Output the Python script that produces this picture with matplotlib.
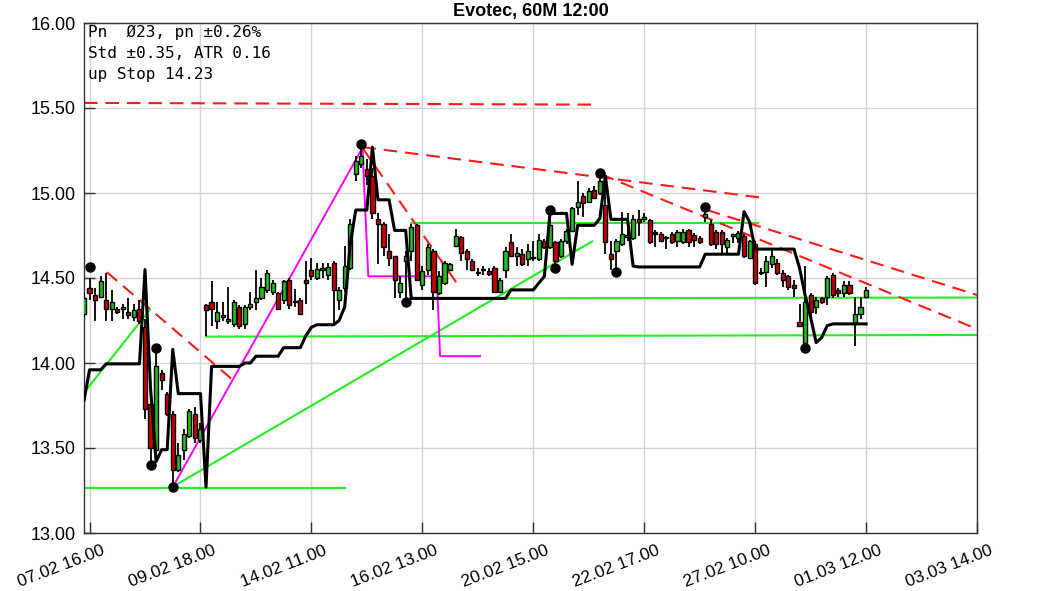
import matplotlib
matplotlib.use("Agg")
import matplotlib.pyplot as plt
import matplotlib.transforms as mtransforms
import numpy as np

# ---------------- data ----------------
opens = [14.29, 14.44, 14.40, 14.39, 14.37, 14.32, 14.32, 14.32, 14.30, 14.27,
         14.32, 14.21, 13.76, 13.49, 13.94, 13.82, 13.70, 13.37, 13.49, 13.57,
         13.70, 13.55, 14.34, 14.36, 14.25, 14.28, 14.25, 14.23, 14.33, 14.23,
         14.33, 14.36, 14.38, 14.43, 14.42, 14.41, 14.37, 14.49, 14.36, 14.37,
         14.49, 14.55, 14.50, 14.545, 14.52, 14.59, 14.37, 14.44, 14.56, 15.11,
         15.17, 15.14, 15.10, 14.85, 14.82, 14.66, 14.63, 14.42, 14.60, 14.66,
         14.81, 14.46, 14.55, 14.66, 14.41, 14.47, 14.55, 14.69, 14.74, 14.66,
         14.60, 14.53, 14.545, 14.54, 14.56, 14.42, 14.55, 14.71, 14.63, 14.64,
         14.61, 14.62, 14.61, 14.72, 14.68, 14.71, 14.63, 14.72, 14.775, 14.92,
         14.98, 14.95, 15.02, 15.00, 14.93, 14.64, 14.66, 14.70, 14.74, 14.735,
         14.85, 14.85, 14.84, 14.77, 14.76, 14.74, 14.76, 14.72, 14.71, 14.78,
         14.755, 14.735, 14.86, 14.82, 14.77, 14.77, 14.68, 14.75, 14.735, 14.745,
         14.62, 14.70, 14.53, 14.535, 14.58, 14.59, 14.53, 14.51, 14.46, 14.24,
         14.12, 14.40, 14.33, 14.38, 14.39, 14.52, 14.43, 14.41, 14.46, 14.23,
         14.29, 14.39]
highs = [14.41, 14.50, 14.44, 14.51, 14.53, 14.43, 14.33, 14.35, 14.38, 14.35,
         14.37, 14.26, 13.77, 14.06, 13.96, 13.83, 13.72, 13.53, 13.61, 13.73,
         13.74, 13.65, 14.35, 14.48, 14.36, 14.36, 14.45, 14.37, 14.34, 14.34,
         14.42, 14.55, 14.50, 14.55, 14.49, 14.42, 14.49, 14.50, 14.435, 14.38,
         14.60, 14.62, 14.59, 14.59, 14.59, 14.60, 14.45, 14.69, 14.85, 15.22,
         15.27, 15.20, 15.15, 14.88, 14.83, 14.76, 14.63, 14.51, 14.66, 14.82,
         14.82, 14.57, 14.70, 14.67, 14.54, 14.60, 14.59, 14.79, 14.75, 14.67,
         14.61, 14.56, 14.57, 14.56, 14.57, 14.50, 14.68, 14.76, 14.68, 14.67,
         14.70, 14.72, 14.76, 14.73, 14.86, 14.72, 14.73, 14.79, 14.92, 15.07,
         15.00, 15.03, 15.04, 15.09, 15.09, 14.72, 14.73, 14.89, 14.88, 14.87,
         14.90, 14.88, 14.85, 14.78, 14.77, 14.745, 14.77, 14.78, 14.79, 14.79,
         14.765, 14.745, 14.89, 14.84, 14.78, 14.78, 14.735, 14.76, 14.775, 14.76,
         14.725, 14.72, 14.56, 14.63, 14.67, 14.61, 14.55, 14.52, 14.49, 14.35,
         14.57, 14.41, 14.39, 14.39, 14.51, 14.53, 14.44, 14.48, 14.48, 14.39,
         14.39, 14.45]
lows = [14.27, 14.37, 14.25, 14.39, 14.25, 14.25, 14.29, 14.26, 14.26, 14.25,
        14.23, 13.67, 13.41, 13.48, 13.84, 13.69, 13.28, 13.36, 13.43, 13.56,
        13.53, 13.53, 14.16, 14.22, 14.20, 14.25, 14.23, 14.21, 14.20, 14.20,
        14.31, 14.31, 14.37, 14.41, 14.40, 14.31, 14.35, 14.32, 14.33, 14.28,
        14.35, 14.49, 14.49, 14.50, 14.49, 14.22, 14.31, 14.42, 14.55, 15.07,
        15.15, 15.05, 14.85, 14.58, 14.63, 14.57, 14.38, 14.38, 14.38, 14.60,
        14.48, 14.43, 14.52, 14.31, 14.40, 14.46, 14.54, 14.68, 14.60, 14.55,
        14.54, 14.51, 14.52, 14.51, 14.42, 14.41, 14.50, 14.63, 14.57, 14.57,
        14.57, 14.60, 14.60, 14.67, 14.67, 14.57, 14.62, 14.70, 14.77, 14.87,
        14.86, 14.95, 14.97, 14.99, 14.64, 14.55, 14.55, 14.69, 14.72, 14.725,
        14.75, 14.83, 14.70, 14.68, 14.71, 14.67, 14.70, 14.68, 14.70, 14.68,
        14.685, 14.70, 14.83, 14.69, 14.67, 14.65, 14.65, 14.705, 14.705, 14.62,
        14.61, 14.46, 14.52, 14.45, 14.56, 14.52, 14.45, 14.43, 14.39, 14.21,
        14.10, 14.28, 14.29, 14.35, 14.34, 14.38, 14.39, 14.39, 14.40, 14.10,
        14.26, 14.38]
closes = [14.38, 14.41, 14.37, 14.48, 14.32, 14.36, 14.30, 14.33, 14.28, 14.31,
          14.245, 13.73, 13.50, 13.98, 13.90, 13.70, 13.37, 13.46, 13.58, 13.72,
          13.56, 13.61, 14.31, 14.32, 14.30, 14.27, 14.26, 14.36, 14.22, 14.33,
          14.35, 14.38, 14.45, 14.53, 14.47, 14.32, 14.48, 14.34, 14.365, 14.29,
          14.47, 14.51, 14.55, 14.56, 14.565, 14.43, 14.43, 14.57, 14.82, 15.19,
          15.22, 15.10, 14.88, 14.82, 14.68, 14.62, 14.49, 14.47, 14.63, 14.80,
          14.49, 14.54, 14.68, 14.42, 14.51, 14.59, 14.58, 14.75, 14.65, 14.61,
          14.55, 14.535, 14.55, 14.525, 14.42, 14.49, 14.66, 14.63, 14.65, 14.58,
          14.66, 14.625, 14.725, 14.68, 14.81, 14.60, 14.72, 14.775, 14.91, 14.95,
          14.94, 15.01, 14.97, 15.07, 14.71, 14.61, 14.72, 14.76, 14.75, 14.85,
          14.83, 14.855, 14.71, 14.76, 14.72, 14.735, 14.71, 14.77, 14.77, 14.71,
          14.725, 14.71, 14.875, 14.70, 14.70, 14.70, 14.725, 14.755, 14.765, 14.63,
          14.715, 14.47, 14.535, 14.60, 14.63, 14.53, 14.49, 14.45, 14.44, 14.22,
          14.36, 14.30, 14.37, 14.36, 14.50, 14.40, 14.41, 14.46, 14.41, 14.29,
          14.33, 14.43]

stop_line = [13.78, 13.96, 13.96, 13.96, 13.995, 13.995, 13.995, 13.995, 13.995, 13.995,
             13.995, 14.55, 13.85, 13.42, 13.49, 13.49, 14.08, 13.82, 13.82, 13.82,
             13.82, 13.82, 13.27, 13.98, 13.98, 13.98, 13.98, 13.98, 13.98, 14.00,
             14.00, 14.04, 14.04, 14.04, 14.04, 14.04, 14.09, 14.09, 14.09, 14.09,
             14.16, 14.21, 14.225, 14.225, 14.225, 14.225, 14.25, 14.33, 14.70, 14.90,
             14.90, 14.90, 15.27, 14.96, 14.96, 14.96, 14.78, 14.78, 14.78, 14.38,
             14.38, 14.38, 14.38, 14.38, 14.38, 14.38, 14.38, 14.38, 14.38, 14.38,
             14.38, 14.38, 14.38, 14.38, 14.38, 14.38, 14.38, 14.43, 14.43, 14.43,
             14.43, 14.43, 14.47, 14.51, 14.88, 14.88, 14.88, 14.88, 14.58, 14.81,
             14.81, 14.81, 14.81, 14.85, 15.10, 14.845, 14.845, 14.845, 14.845, 14.57,
             14.565, 14.565, 14.565, 14.565, 14.565, 14.565, 14.565, 14.565, 14.565, 14.565,
             14.565, 14.565, 14.64, 14.64, 14.64, 14.64, 14.64, 14.64, 14.64, 14.89,
             14.83, 14.67, 14.67, 14.67, 14.67, 14.67, 14.67, 14.67, 14.67, 14.56,
             14.40, 14.27, 14.12, 14.15, 14.22, 14.23, 14.23, 14.23, 14.23, 14.23,
             14.23, 14.23]

# zigzag (magenta) pivots: bar position, price
zigzag_pos = [16, 50.2, 51.25, 63.6, 64.2, 71.4]
zigzag_val = [13.27, 15.265, 14.51, 14.51, 14.04, 14.04]

# support / trend lines (green): start pos, start price, end pos, end price
green_x0 = [0, 0, 15.9, 22, 58.8, 59]
green_y0 = [13.265, 13.825, 13.27, 14.155, 14.38, 14.825]
green_x1 = [47, 11.9, 91.6, 161, 161, 121.5]
green_y1 = [13.265, 14.315, 14.715, 14.165, 14.385, 14.825]

# resistance lines (red dashed)
red_x0 = [0, 4.1, 50.2, 50.2, 93.2, 112.3]
red_y0 = [15.53, 14.535, 15.265, 15.27, 15.11, 14.90]
red_x1 = [91.6, 27.2, 67.2, 122.8, 161, 161]
red_y1 = [15.52, 13.89, 14.47, 14.97, 14.20, 14.40]

# swing markers
pivot_pos = [1, 12, 13, 16, 50, 58, 84, 85, 93, 96, 112, 130]
pivot_val = [14.565, 13.40, 14.09, 13.27, 15.29, 14.36, 14.90, 14.56, 15.115, 14.535, 14.915, 14.09]

tick_pos = [1, 21, 41, 61, 81, 101, 121, 141, 161]
tick_labels = ["07.02 16.00", "09.02 18.00", "14.02 11.00", "16.02 13.00", "20.02 15.00",
               "22.02 17.00", "27.02 10.00", "01.03 12.00", "03.03 14.00"]
y_ticks = [13.0, 13.5, 14.0, 14.5, 15.0, 15.5, 16.0]

info_lines = ["Pn  \u00d823, pn \u00b10.26%", "Std \u00b10.35, ATR 0.16", "up Stop 14.23"]

# ---------------- plot ----------------
W, H = 1063, 591
fig = plt.figure(figsize=(W / 100, H / 100), dpi=100)
ax = fig.add_axes([84 / W, (H - 533) / H, 893 / W, 510 / H])

ax.set_xlim(0, 161)
ax.set_ylim(13.0, 16.0)
ax.grid(True, color="#d4d4d4", linewidth=1.0, zorder=0)
ax.set_axisbelow(True)

for x0, y0, x1, y1 in zip(green_x0, green_y0, green_x1, green_y1):
    ax.plot([x0, x1], [y0, y1], color="#22ee22", lw=1.5, zorder=2)
for x0, y0, x1, y1 in zip(red_x0, red_y0, red_x1, red_y1):
    ax.plot([x0, x1], [y0, y1], color="#ff1a1a", lw=1.5, dashes=(6.5, 3.8), zorder=2)
ax.plot(zigzag_pos, zigzag_val, color="#ff00ff", lw=1.4, zorder=2)

idx = np.arange(len(opens))
o = np.array(opens); c = np.array(closes); hi = np.array(highs); lo = np.array(lows)
ax.vlines(idx, lo, hi, color="black", lw=1.3, zorder=3)
up = c >= o
body_bottom = np.minimum(o, c)
body_h = np.maximum(np.abs(c - o), 0.006)
ax.bar(idx[up], body_h[up], bottom=body_bottom[up], width=0.75,
       color="#20c020", edgecolor="black", linewidth=1.0, zorder=4)
ax.bar(idx[~up], body_h[~up], bottom=body_bottom[~up], width=0.75,
       color="#c80000", edgecolor="black", linewidth=1.0, zorder=4)

ax.plot(idx, stop_line, color="black", lw=2.2, zorder=5)
ax.plot(pivot_pos, pivot_val, "o", color="black", ms=6.5, zorder=6)

ax.set_yticks(y_ticks)
ax.set_yticklabels([f"{v:.2f}" for v in y_ticks], fontsize=13, family="Liberation Sans")
ax.set_xticks(tick_pos)
ax.set_xticklabels([])
lab_trans = (mtransforms.blended_transform_factory(ax.transData, ax.transAxes)
             + mtransforms.ScaledTranslation(12 / 100, -10 / 100, fig.dpi_scale_trans))
for p, t in zip(tick_pos, tick_labels):
    ax.text(p, 0, t, transform=lab_trans, fontsize=12.5, family="Liberation Sans",
            rotation=21, ha="right", va="top", rotation_mode="anchor", clip_on=False)

ax.tick_params(axis="both", direction="in", length=8, width=1, color="#333333")
ax.tick_params(axis="y", pad=6)
for sp in ax.spines.values():
    sp.set_color("#333333")
    sp.set_linewidth(1.0)

ax.set_title("Evotec, 60M 12:00", fontsize=13, fontweight="bold",
             family="Liberation Sans", pad=5)

for k, line in enumerate(info_lines):
    fig.text(88 / W, 1 - (32 + 21 * k) / H, line, family="DejaVu Sans Mono",
             fontsize=11.5, va="center", ha="left")

fig.savefig("out.png", dpi=100)
